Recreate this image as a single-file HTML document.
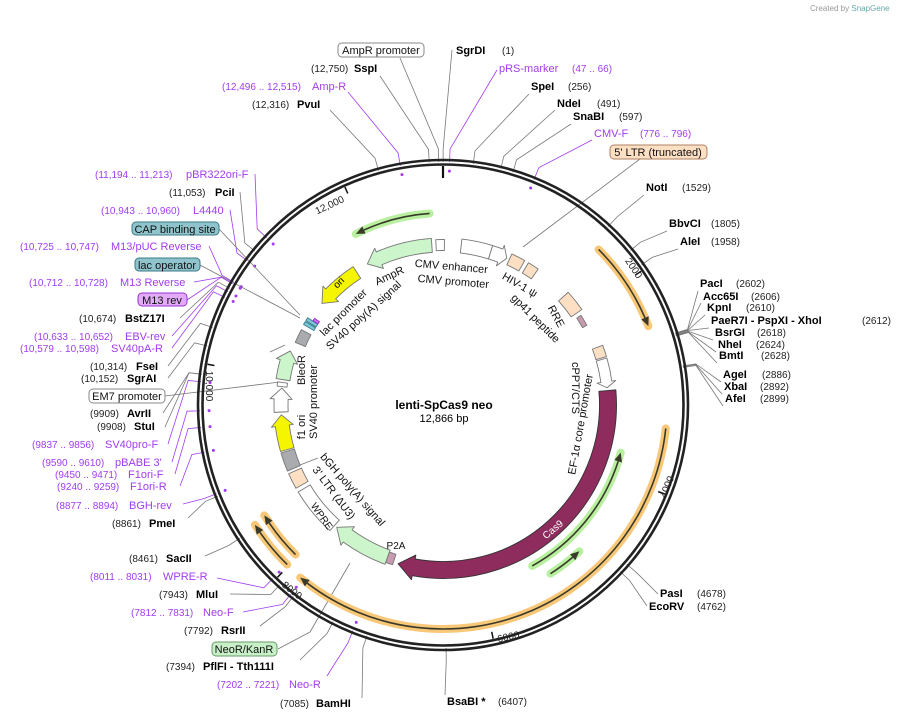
<!DOCTYPE html>
<html><head><meta charset="utf-8">
<style>
html,body{margin:0;padding:0;background:#fff;}
svg{display:block;font-family:"Liberation Sans","DejaVu Sans",sans-serif;}
.n{font-size:10px;fill:#222;}
.b{font-size:11px;font-weight:bold;fill:#000;}
.p{font-size:11px;fill:#a23cf0;}
.pn{font-size:10px;fill:#a23cf0;}
.f{font-size:11px;fill:#111;}
</style></head>
<body>
<svg id="s" width="907" height="719" viewBox="0 0 907 719" xmlns="http://www.w3.org/2000/svg">
<g id="geo"></g>
<!-- credit -->
<text x="810" y="11" style="font-size:8px;fill:#999">Created by <tspan fill="#6aa">SnapGene</tspan></text>

<!-- center -->
<text x="444" y="409" text-anchor="middle" style="font-size:12px;font-weight:bold">lenti-SpCas9 neo</text>
<text x="444" y="422" text-anchor="middle" style="font-size:11px">12,866 bp</text>

<!-- tick labels -->
<text class="n" transform="translate(631,270) rotate(56)" text-anchor="middle">2000</text>
<text class="n" transform="translate(670,488) rotate(-68)" text-anchor="middle">4000</text>
<text class="n" transform="translate(509,640) rotate(-12)" text-anchor="middle">6000</text>
<text class="n" transform="translate(290,593) rotate(38)" text-anchor="middle">8000</text>
<text class="n" transform="translate(206,386) rotate(90)" text-anchor="middle">10,000</text>
<text class="n" transform="translate(331,208) rotate(-25)" text-anchor="middle">12,000</text>

<!-- inner feature labels -->
<text class="f" transform="translate(451,270) rotate(5)" text-anchor="middle">CMV enhancer</text>
<text class="f" transform="translate(453,285) rotate(5)" text-anchor="middle">CMV promoter</text>
<text class="f" transform="translate(391,279) rotate(-25)" text-anchor="middle">AmpR</text>
<text class="f" transform="translate(346,315) rotate(-45)" text-anchor="middle">lac promoter</text>
<text class="f" transform="translate(366,318) rotate(-42)" text-anchor="middle">SV40 poly(A) signal</text>
<text class="f" transform="translate(518,288) rotate(30)" text-anchor="middle">HIV-1 ψ</text>
<text class="f" transform="translate(533,321) rotate(45)" text-anchor="middle">gp41 peptide</text>
<text class="f" transform="translate(553,318) rotate(62)" text-anchor="middle">RRE</text>
<text class="f" transform="translate(572,388) rotate(90)" text-anchor="middle">cPPT/CTS</text>
<text class="f" transform="translate(584,425) rotate(-80)" text-anchor="middle">EF-1α core promoter</text>
<text class="f" transform="translate(305,370) rotate(-90)" text-anchor="middle">BleoR</text>
<text class="f" transform="translate(317,402) rotate(-90)" text-anchor="middle">SV40 promoter</text>
<text class="f" transform="translate(305,427) rotate(-90)" text-anchor="middle">f1 ori</text>
<text class="f" transform="translate(350,492) rotate(49)" text-anchor="middle">bGH poly(A) signal</text>
<text class="f" transform="translate(331,495) rotate(53)" text-anchor="middle">3' LTR (ΔU3)</text>
<text class="f" transform="translate(319,518) rotate(55)" text-anchor="middle" style="font-size:10px">WPRE</text>
<text class="f" x="396" y="549" text-anchor="middle" style="font-size:10px">P2A</text>
<text transform="translate(555,532) rotate(-40)" text-anchor="middle" style="font-size:10px;fill:#fff">Cas9</text>
<text transform="translate(341,285) rotate(-45)" text-anchor="middle" style="font-size:10px;fill:#000">ori</text>

<!-- boxes -->
<rect x="338" y="43" width="86" height="14" rx="4" fill="#fff" stroke="#888"/>
<text class="f" x="381" y="54" text-anchor="middle">AmpR promoter</text>
<rect x="610" y="145" width="97" height="14" rx="4" fill="#fde0c4" stroke="#b08060"/>
<text class="f" x="658" y="156" text-anchor="middle">5' LTR (truncated)</text>
<rect x="212" y="642" width="65" height="14" rx="4" fill="#c8f0c8" stroke="#6a9a6a"/>
<text class="f" x="244" y="653" text-anchor="middle">NeoR/KanR</text>
<rect x="89" y="389" width="76" height="14" rx="4" fill="#fff" stroke="#888"/>
<text class="f" x="127" y="400" text-anchor="middle">EM7 promoter</text>
<rect x="138" y="293" width="49" height="13" rx="4" fill="#e3aaf8" stroke="#9933cc"/>
<text class="f" x="162" y="304" text-anchor="middle">M13 rev</text>
<rect x="135" y="258" width="65" height="13" rx="4" fill="#8fc4cc" stroke="#3a7a88"/>
<text class="f" x="167" y="269" text-anchor="middle">lac operator</text>
<rect x="132" y="222" width="87" height="13" rx="4" fill="#8fc4cc" stroke="#3a7a88"/>
<text class="f" x="175" y="233" text-anchor="middle">CAP binding site</text>

<!-- top / right labels -->
<text class="b" x="456" y="54">SgrDI</text><text class="n" x="502" y="54">(1)</text>
<text class="n" x="311" y="72">(12,750)</text><text class="b" x="354" y="72">SspI</text>
<text class="p" x="499" y="72">pRS-marker</text><text class="pn" x="572" y="72">(47 .. 66)</text>
<text class="pn" x="222" y="90">(12,496 .. 12,515)</text><text class="p" x="312" y="90">Amp-R</text>
<text class="b" x="531" y="90">SpeI</text><text class="n" x="568" y="90">(256)</text>
<text class="n" x="252" y="108">(12,316)</text><text class="b" x="297" y="108">PvuI</text>
<text class="b" x="557" y="107">NdeI</text><text class="n" x="597" y="107">(491)</text>
<text class="b" x="573" y="120">SnaBI</text><text class="n" x="619" y="120">(597)</text>
<text class="p" x="594" y="137">CMV-F</text><text class="pn" x="640" y="137">(776 .. 796)</text>
<text class="b" x="646" y="191">NotI</text><text class="n" x="682" y="191">(1529)</text>
<text class="b" x="669" y="227">BbvCI</text><text class="n" x="711" y="227">(1805)</text>
<text class="b" x="680" y="245">AleI</text><text class="n" x="711" y="245">(1958)</text>
<text class="b" x="700" y="287">PacI</text><text class="n" x="736" y="287">(2602)</text>
<text class="b" x="703" y="300">Acc65I</text><text class="n" x="751" y="300">(2606)</text>
<text class="b" x="707" y="311">KpnI</text><text class="n" x="746" y="311">(2610)</text>
<text class="b" x="711" y="324">PaeR7I  - PspXI  - XhoI</text><text class="n" x="862" y="324">(2612)</text>
<text class="b" x="715" y="336">BsrGI</text><text class="n" x="757" y="336">(2618)</text>
<text class="b" x="718" y="348">NheI</text><text class="n" x="756" y="348">(2624)</text>
<text class="b" x="719" y="359">BmtI</text><text class="n" x="761" y="359">(2628)</text>
<text class="b" x="723" y="378">AgeI</text><text class="n" x="762" y="378">(2886)</text>
<text class="b" x="724" y="390">XbaI</text><text class="n" x="760" y="390">(2892)</text>
<text class="b" x="725" y="402">AfeI</text><text class="n" x="760" y="402">(2899)</text>
<text class="b" x="660" y="597">PasI</text><text class="n" x="697" y="597">(4678)</text>
<text class="b" x="649" y="610">EcoRV</text><text class="n" x="697" y="610">(4762)</text>
<text class="b" x="447" y="705">BsaBI *</text><text class="n" x="498" y="705">(6407)</text>

<!-- left / bottom labels -->
<text class="n" x="280" y="707">(7085)</text><text class="b" x="316" y="707">BamHI</text>
<text class="pn" x="217" y="688">(7202 .. 7221)</text><text class="p" x="289" y="688">Neo-R</text>
<text class="n" x="166" y="670">(7394)</text><text class="b" x="203" y="670">PflFI   - Tth111I</text>
<text class="n" x="184" y="634">(7792)</text><text class="b" x="221" y="634">RsrII</text>
<text class="pn" x="131" y="616">(7812 .. 7831)</text><text class="p" x="203" y="616">Neo-F</text>
<text class="n" x="159" y="598">(7943)</text><text class="b" x="196" y="598">MluI</text>
<text class="pn" x="90" y="580">(8011 .. 8031)</text><text class="p" x="163" y="580">WPRE-R</text>
<text class="n" x="129" y="562">(8461)</text><text class="b" x="166" y="562">SacII</text>
<text class="n" x="112" y="527">(8861)</text><text class="b" x="149" y="527">PmeI</text>
<text class="pn" x="56" y="509">(8877 .. 8894)</text><text class="p" x="129" y="509">BGH-rev</text>
<text class="pn" x="57" y="490">(9240 .. 9259)</text><text class="p" x="130" y="490">F1ori-R</text>
<text class="pn" x="55" y="478">(9450 .. 9471)</text><text class="p" x="128" y="478">F1ori-F</text>
<text class="pn" x="42" y="466">(9590 .. 9610)</text><text class="p" x="115" y="466">pBABE 3'</text>
<text class="pn" x="32" y="448">(9837 .. 9856)</text><text class="p" x="105" y="448">SV40pro-F</text>
<text class="n" x="97" y="430">(9908)</text><text class="b" x="134" y="430">StuI</text>
<text class="n" x="90" y="417">(9909)</text><text class="b" x="127" y="417">AvrII</text>
<text class="n" x="81" y="382">(10,152)</text><text class="b" x="127" y="382">SgrAI</text>
<text class="n" x="90" y="370">(10,314)</text><text class="b" x="136" y="370">FseI</text>
<text class="pn" x="20" y="352">(10,579 .. 10,598)</text><text class="p" x="111" y="352">SV40pA-R</text>
<text class="pn" x="34" y="340">(10,633 .. 10,652)</text><text class="p" x="125" y="340">EBV-rev</text>
<text class="n" x="79" y="322">(10,674)</text><text class="b" x="125" y="322">BstZ17I</text>
<text class="pn" x="29" y="286">(10,712 .. 10,728)</text><text class="p" x="120" y="286">M13 Reverse</text>
<text class="pn" x="20" y="250">(10,725 .. 10,747)</text><text class="p" x="111" y="250">M13/pUC Reverse</text>
<text class="pn" x="101" y="214">(10,943 .. 10,960)</text><text class="p" x="193" y="214">L4440</text>
<text class="n" x="169" y="196">(11,053)</text><text class="b" x="215" y="196">PciI</text>
<text class="pn" x="95" y="178">(11,194 .. 11,213)</text><text class="p" x="186" y="178">pBR322ori-F</text>

<script>
(function(){
var NS="http://www.w3.org/2000/svg",g=document.getElementById("geo");
var cx=443,cy=405,L=12866;
function pt(a,r){var t=a*Math.PI/180;return [cx+r*Math.sin(t),cy-r*Math.cos(t)];}
function el(n,at){var e=document.createElementNS(NS,n);for(var k in at)e.setAttribute(k,at[k]);g.appendChild(e);return e;}
function deg(bp){return bp*360/L;}
function arcD(a1,a2,r,move){var p1=pt(a1,r),p2=pt(a2,r);var lg=Math.abs(a2-a1)>180?1:0;var sw=a2>a1?1:0;
 return (move?"M":"L")+p1[0].toFixed(2)+" "+p1[1].toFixed(2)+" A"+r+" "+r+" 0 "+lg+" "+sw+" "+p2[0].toFixed(2)+" "+p2[1].toFixed(2);}
function band(a1,a2,r,w,fill,stroke,head){
 var dir=a2>a1?1:-1,ro=r+w/2,ri=r-w/2,d;
 if(head){var h=head/r*180/Math.PI,ab=a2-dir*h;if(dir*(ab-a1)<0)ab=a1;
  var po=pt(ab,ro+4),pi=pt(ab,ri-4),tp=pt(a2,r);
  d=arcD(a1,ab,ro,true)+" L"+po[0]+" "+po[1]+" L"+tp[0]+" "+tp[1]+" L"+pi[0]+" "+pi[1]+" "+arcD(ab,a1,ri,false).replace(/^L[^A]*/,function(s){var q=pt(ab,ri);return "L"+q[0]+" "+q[1]+" ";})+" Z";
 } else {
  var q=pt(a2,ri);
  d=arcD(a1,a2,ro,true)+" L"+q[0]+" "+q[1]+" "+arcD(a2,a1,ri,false).replace(/^L[^A]*/,"")+" Z";
 }
 el("path",{d:d,fill:fill,stroke:stroke,"stroke-width":0.9,"stroke-linejoin":"round"});
}
function thin(a1,a2,r,glow){
 var dir=a2>a1?1:-1,h=9/r*180/Math.PI,ab=a2-dir*h;
 var d=arcD(a1,a2,r,true);
 el("path",{d:d,fill:"none",stroke:glow,"stroke-width":8,"stroke-linecap":"round"});
 el("path",{d:arcD(a1,ab,r,true),fill:"none",stroke:"#3a3a2a","stroke-width":1.6});
 var tp=pt(a2,r),po=pt(ab,r+4),pi=pt(ab,r-4);
 el("path",{d:"M"+tp+" L"+po+" L"+pi+" Z",fill:"#3a3a2a"});
}
function line(p,q,c,w){el("line",{x1:p[0],y1:p[1],x2:q[0],y2:q[1],stroke:c||"#777","stroke-width":w||0.8});}
function leader(bp,ax,ay,col){var a=deg(bp);var p1=pt(a,243),p2=pt(a,256);
 el("path",{d:"M"+p1[0]+" "+p1[1]+" L"+p2[0]+" "+p2[1]+" L"+ax+" "+ay,fill:"none",stroke:col||"#777","stroke-width":0.8});
 if(col){var d=pt(a,234);el("circle",{cx:d[0],cy:d[1],r:1.5,fill:col});}
}
// leaders
var P="#a23cf0";
leader(1,452,50);leader(12750,380,76);leader(12830,400,58);
leader(56,497,70,P);leader(12505,348,92,P);leader(256,529,94);leader(12316,330,110);
leader(491,555,110);leader(597,571,124);leader(786,592,140,P);
leader(1529,644,195);leader(1805,667,231);leader(1958,678,249);
[[2602,698,291],[2606,701,303],[2610,705,315],[2612,709,328],[2618,713,340],[2624,716,352],[2628,717,363],[2886,721,382],[2892,722,394],[2899,723,406]].forEach(function(x){leader(x[0],x[1],x[2]);});
leader(4678,658,594);leader(4762,647,606);leader(6407,445,695);
leader(7085,362,698);leader(7211,327,676,P);leader(7394,300,660);leader(7792,260,626);
leader(7821,243,612,P);leader(7943,230,594);leader(8021,217,578,P);leader(8461,205,556);
leader(8861,188,518);leader(8885,183,504,P);leader(9250,180,486,P);leader(9460,175,474,P);
leader(9600,172,462,P);leader(9846,168,444,P);leader(9908,165,427);leader(9909,163,413);
leader(10152,168,378);leader(10314,168,366);leader(10588,172,348,P);leader(10642,172,336,P);
leader(10674,180,318);leader(10720,187,300,P);leader(10720,194,282,P);leader(10736,209,246,P);
leader(10951,230,210,P);leader(11053,240,192);leader(11203,255,174,P);
// feature leaders
line([640,159],[523,247]);line([278,649],[310,632]);line([310,632],[350,563]);
line([165,396],[280,382]);line([200,265],[300,318]);line([219,229],[300,315]);
line([300,465],[318,458]);line([285,345],[270,352]);
// backbone
el("circle",{cx:cx,cy:cy,r:245,fill:"none",stroke:"#222","stroke-width":2.6});
el("circle",{cx:cx,cy:cy,r:240.5,fill:"none",stroke:"#222","stroke-width":2.6});
line([443,166],[443,178],"#111",2.2);
[2000,4000,6000,8000,10000,12000].forEach(function(b){line(pt(deg(b),239),pt(deg(b),232),"#111",1.5);});
// outer orange/green arcs
var OR="#f8c878",GR="#b8f0a0";
thin(45,69,220,OR);thin(96,219.6,224,OR);thin(224.3,237.5,223,OR);thin(224.6,238.3,210,OR);
thin(-4,-27,192,GR);thin(151,105,184,GR);thin(147.5,137,200,GR);
// inner features
var Gn="#ccf5cc",Pe="#fde0c4",Gy="#a9abae",Ye="#f5f500",Wh="#fff",St="#777";
band(85,195.8,165,17,"#8e2c5e","#333",16);
band(200,221,162,15,Gn,St,14);
band(197.5,200,162,11,"#c89ab0",St,0);
band(222,239,162,14,Wh,St,0);
band(240.5,246,162,14,Pe,St,0);
band(247,253.5,162,14,Gy,St,0);
band(254,266.5,162,14,Ye,St,11);
band(267.5,276,162,14,Wh,St,11);
band(276.5,278,162,10,Wh,St,0);
band(279,289.5,162,14,Gn,St,11);
band(293,298,155,11,Gy,St,0);
band(300,301.2,155,12,"#7ac8d8","#3a7a88",0);band(301.6,302.8,155,12,"#7ac8d8","#3a7a88",0);band(303,304,152,6,"#d070f0","#9933cc",0);
band(-33,-50,158,14,Ye,St,13);
band(-4,-28.2,160,14,Gn,St,13);
band(-2.5,0.5,160,11,Wh,St,0);
band(6.5,17.3,160,14,Wh,St,0);
band(17.3,23.5,160,14,Wh,St,7);
band(24.5,29.5,160,12,Pe,St,0);band(31,35,160,12,Pe,St,0);
band(48,55.5,162,13,Pe,St,0);
band(57,61,162,5,"#c89ab0",St,0);
band(69.5,73.5,165,11,Pe,St,0);
band(74,84,165,11,Wh,St,6);
})();
</script>
</svg>
</body></html>
